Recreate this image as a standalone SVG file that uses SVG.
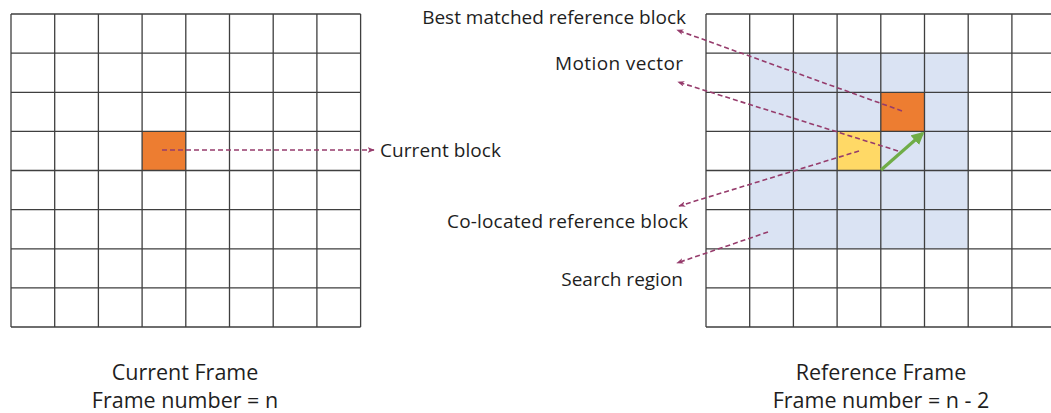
<svg xmlns="http://www.w3.org/2000/svg" width="1051" height="413" viewBox="0 0 1051 413">
  <style>
    .grid { stroke: #3f3f3f; stroke-width: 1.3; fill: none; }
    .lbl { font-family: "Open Sans", "Noto Sans", sans-serif; font-size: 19px; fill: #1e1e1e; }
    .cap { font-family: "Open Sans", "Noto Sans", sans-serif; font-size: 21.5px; fill: #1e1e1e; text-anchor: middle; }
    .dash { stroke: #963c6c; stroke-width: 1.6; stroke-dasharray: 5 3; fill: none; marker-end: url(#tip); }
    .mv { stroke: #70ad47; stroke-width: 3.2; fill: none; marker-end: url(#greenTip); }
  </style>
  <defs>
    <marker id="tip" viewBox="0 0 10 8" refX="9" refY="4" markerWidth="7" markerHeight="5.6" orient="auto" markerUnits="userSpaceOnUse">
      <path d="M0,0 L10,4 L0,8 L2.5,4 z" fill="#963c6c"/>
    </marker>
    <marker id="greenTip" viewBox="0 0 10 10" refX="8" refY="5" markerWidth="4" markerHeight="4" orient="auto">
      <path d="M0,0 L10,5 L0,10 z" fill="#70ad47"/>
    </marker>
  </defs>

  <rect width="1051" height="413" fill="#ffffff"/>

  <!-- Current frame: 8x8 block grid -->
  <g id="current-frame">
    <rect id="current-block" x="142.1" y="131.4" width="43.7" height="39.1" fill="#ed7d31"/>
    <path class="grid" d="M11,14H360.6 M11,53.1H360.6 M11,92.3H360.6 M11,131.4H360.6 M11,170.5H360.6 M11,209.6H360.6 M11,248.8H360.6 M11,287.9H360.6 M11,327H360.6
      M11,14V327 M54.7,14V327 M98.4,14V327 M142.1,14V327 M185.8,14V327 M229.5,14V327 M273.2,14V327 M316.9,14V327 M360.6,14V327"/>
  </g>

  <!-- Reference frame: grid with search region and candidate blocks -->
  <g id="reference-frame">
    <rect id="search-region" x="749.7" y="53.1" width="218.5" height="195.7" fill="#dae3f3"/>
    <rect id="best-matched-block" x="880.8" y="92.3" width="43.7" height="39.1" fill="#ed7d31"/>
    <rect id="co-located-block" x="837.1" y="131.4" width="43.7" height="39.1" fill="#ffd966"/>
    <path class="grid" d="M706,14H1051 M706,53.1H1051 M706,92.3H1051 M706,131.4H1051 M706,170.5H1051 M706,209.6H1051 M706,248.8H1051 M706,287.9H1051 M706,327H1051
      M706,14V327 M749.7,14V327 M793.4,14V327 M837.1,14V327 M880.8,14V327 M924.5,14V327 M968.2,14V327 M1011.9,14V327"/>
    <line id="motion-vector" class="mv" x1="881" y1="170" x2="922.5" y2="133.5"/>
  </g>

  <!-- Callout leaders -->
  <g id="connectors">
    <line class="dash" x1="162" y1="150" x2="374" y2="150"/>
    <line class="dash" x1="902" y1="111" x2="677" y2="30"/>
    <line class="dash" x1="898" y1="151" x2="678" y2="82"/>
    <line class="dash" x1="859" y1="151" x2="679" y2="206"/>
    <line class="dash" x1="768" y1="232" x2="677" y2="263"/>
  </g>

  <g id="label-current-block"><text class="lbl" x="380" y="157" textLength="121">Current block</text></g>
  <g id="label-best-matched"><text class="lbl" x="686" y="24" text-anchor="end">Best matched reference block</text></g>
  <g id="label-motion-vector"><text class="lbl" x="683" y="70" text-anchor="end" textLength="128">Motion vector</text></g>
  <g id="label-co-located"><text class="lbl" x="688" y="228" text-anchor="end" textLength="241">Co-located reference block</text></g>
  <g id="label-search-region"><text class="lbl" x="683" y="286" text-anchor="end">Search region</text></g>

  <g id="caption-current">
    <text class="cap" x="185" y="380">Current Frame</text>
    <text class="cap" x="185" y="408">Frame number = n</text>
  </g>
  <g id="caption-reference">
    <text class="cap" x="881" y="380">Reference Frame</text>
    <text class="cap" x="881" y="408">Frame number = n - 2</text>
  </g>
</svg>
